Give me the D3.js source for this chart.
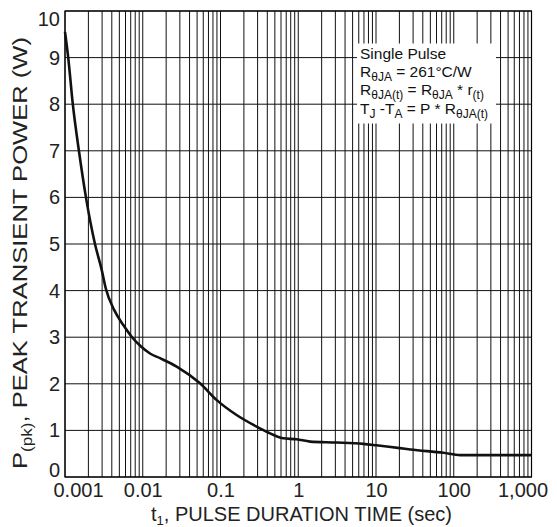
<!DOCTYPE html>
<html>
<head>
<meta charset="utf-8">
<script src="https://cdn.jsdelivr.net/npm/d3@7/dist/d3.min.js"></script>
<style>
  body { margin: 0; background: #fff; }
  svg { display: block; font-family: "Liberation Sans", Arial, sans-serif; }
  .grid line { stroke: #111; stroke-width: 1; }
  .axis text { font-size: 20px; fill: #222; }
</style>
</head>
<body>
<svg id="chart" width="557" height="527"></svg>
<script>
// transient thermal response
var pulseTime = [0.001, 0.0011, 0.00126, 0.00151, 0.00186, 0.00243, 0.00296, 0.00334, 0.0043, 0.00563,
                 0.0072, 0.0095, 0.0124, 0.0167, 0.0273, 0.0545, 0.0896, 0.161, 0.292, 0.393,
                 0.64, 0.954, 1.42, 3.13, 6.85, 10.1, 20.3, 27.7, 73.5, 121.5, 300, 1000]
  , peakPower = [9.55, 9.0, 8.0, 7.0, 6.0, 5.0, 4.45, 4.05, 3.58, 3.26,
                 3.01, 2.8, 2.65, 2.55, 2.37, 2.01, 1.65, 1.33, 1.08, 0.97,
                 0.83, 0.81, 0.76, 0.74, 0.71, 0.68, 0.62, 0.59, 0.52, 0.47, 0.47, 0.47];

var xTicks = [0.001, 0.01, 0.1, 1, 10, 100, 1000]
  , yTicks = [0, 1, 2, 3, 4, 5, 6, 7, 8, 9, 10];

// [text, is subscript]
var noteLines = [
  [["Single Pulse", 0]],
  [["R", 0], ["\u03b8JA", 1], [" = 261\u00b0C/W", 0]],
  [["R", 0], ["\u03b8JA(t)", 1], [" = R", 0], ["\u03b8JA", 1], [" * r", 0], ["(t)", 1]],
  [["T", 0], ["J", 1], [" -T", 0], ["A", 1], [" = P * R", 0], ["\u03b8JA(t)", 1]]
];

var plotLeft = 65, plotRight = 531.5, plotTop = 11, plotBottom = 477;

var svg = d3.select('#chart')
  , x = d3.scaleLog().domain([0.001, 1000]).range([plotLeft, plotRight])
  , y = d3.scaleLinear().domain([0, 10]).range([plotBottom, plotTop]);

// grid
var grid = svg.append('g').attr('class', 'grid');

grid.selectAll('line.v')
  .data(x.ticks())
  .enter().append('line')
    .attr('class', 'v')
    .attr('x1', function (d) { return x(d); })
    .attr('x2', function (d) { return x(d); })
    .attr('y1', plotTop)
    .attr('y2', plotBottom);

grid.selectAll('line.h')
  .data(yTicks)
  .enter().append('line')
    .attr('class', 'h')
    .attr('x1', plotLeft)
    .attr('x2', plotRight)
    .attr('y1', function (d) { return y(d); })
    .attr('y2', function (d) { return y(d); });

// note box knocks out the grid behind it
svg.append('rect')
  .attr('x', 357)
  .attr('y', 43.5)
  .attr('width', 139)
  .attr('height', 80)
  .attr('fill', '#fff');

var note = svg.append('text')
  .attr('fill', '#111');

noteLines.forEach(function (line, i) {
  var row = note.append('tspan')
    .attr('x', 360)
    .attr('y', 58.7 + i * 18.3)
    .attr('font-size', 15.5)
    , prevSub = 0;
  line.forEach(function (part) {
    row.append('tspan')
      .attr('font-size', part[1] ? 12 : 15.5)
      .attr('dy', (part[1] ? 4 : 0) - (prevSub ? 4 : 0))
      .text(part[0]);
    prevSub = part[1];
  });
});

// frame
svg.append('rect')
  .attr('x', plotLeft)
  .attr('y', plotTop)
  .attr('width', plotRight - plotLeft)
  .attr('height', plotBottom - plotTop)
  .attr('fill', 'none')
  .attr('stroke', '#000')
  .attr('stroke-width', 1.2);

// curve
var line = d3.line()
  .x(function (d) { return x(d[0]); })
  .y(function (d) { return y(d[1]); })
  .curve(d3.curveMonotoneX);

svg.append('path')
  .datum(d3.zip(pulseTime, peakPower))
  .attr('d', line)
  .attr('fill', 'none')
  .attr('stroke', '#111')
  .attr('stroke-width', 2.6)
  .attr('stroke-linejoin', 'round');

// axes
var xAxis = svg.append('g')
  .attr('class', 'axis')
  .attr('transform', 'translate(0,' + plotBottom + ')')
  .call(d3.axisBottom(x).tickValues(xTicks).tickFormat(d3.format(',')).tickSize(0).tickPadding(5.5));

var yAxis = svg.append('g')
  .attr('class', 'axis')
  .attr('transform', 'translate(' + plotLeft + ',0)')
  .call(d3.axisLeft(y).tickValues(yTicks).tickSize(0).tickPadding(5));

svg.selectAll('.axis .domain').remove();
svg.selectAll('.axis').attr('font-family', null).attr('font-size', null);

// end labels are pulled inside the frame
xAxis.selectAll('.tick text').filter(function (d) { return d === 0.001; }).attr('dx', 13);
xAxis.selectAll('.tick text').filter(function (d) { return d === 1000; }).attr('dx', -9);
yAxis.selectAll('.tick text').filter(function (d) { return d === 10; }).attr('dy', '0.72em');
yAxis.selectAll('.tick text').filter(function (d) { return d === 0; }).attr('dy', '-0.05em');

// titles
var xTitle = svg.append('text')
  .attr('x', (146 + 457) / 2)
  .attr('y', 520.5)
  .attr('text-anchor', 'middle')
  .attr('font-size', 20)
  .attr('fill', '#222');
xTitle.append('tspan').text('t');
xTitle.append('tspan').attr('font-size', 13).attr('dy', 4).text('1');
xTitle.append('tspan').attr('dy', -4).text(', PULSE DURATION TIME (sec)');

var yTitle = svg.append('text')
  .attr('transform', 'translate(27,' + 253 + ') rotate(-90)')
  .attr('text-anchor', 'middle')
  .attr('font-size', 21)
  .attr('textLength', 432)
  .attr('lengthAdjust', 'spacingAndGlyphs')
  .attr('fill', '#222');
yTitle.append('tspan').text('P');
yTitle.append('tspan').attr('font-size', 14).attr('dy', 5).text('(pk)');
yTitle.append('tspan').attr('dy', -5).text(', PEAK TRANSIENT POWER (W)');
</script>
</body>
</html>
